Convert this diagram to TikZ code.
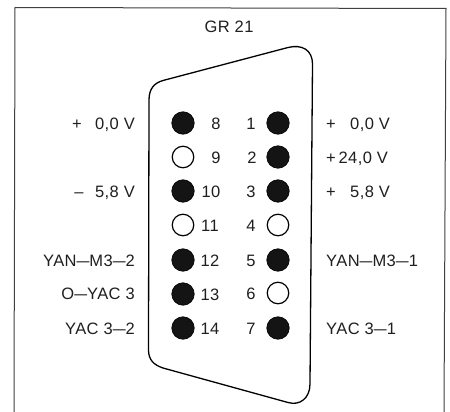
\documentclass[tikz,border=0pt]{standalone}
\usepackage{graphicx}
\usepackage{fontspec}
\setmainfont[LetterSpace=2.5]{Liberation Sans}
\newcommand{\ldash}{\scalebox{1.4}[1]{--}}
\tikzset{
  x=1pt,y=-1pt,
  full/.style={circle,draw=black,fill=black!92,line width=0.6pt,minimum size=22.5pt,inner sep=0pt},
  hollow/.style={circle,draw=black,fill=white,line width=1.2pt,minimum size=21.5pt,inner sep=0pt},
  txt/.style={font=\fontsize{16.5}{18}\selectfont,text=black!88,inner sep=0pt,text height=11.5pt,text depth=0pt,yshift=-0.7pt},
  ll/.style={txt,anchor=east},
  rl/.style={txt,anchor=west},
  num/.style={txt,anchor=center},
  frame/.style={draw=black!75,line width=1pt},
  shell/.style={draw=black,line width=1.3pt,line join=round}
}
\begin{document}
\begin{tikzpicture}
\useasboundingbox (0,0) rectangle (450,412);
\fill[white] (0,0) rectangle (450,412);
\coordinate (fa) at (14,412);
\coordinate (fb) at (15,7.5);
\coordinate (fc) at (446,8.5);
\coordinate (fd) at (444,412);
\draw[frame] (fa) -- (fb) -- (fc) -- (fd);
\draw[shell] (149,100) .. controls (149,89) and (154,83) .. (163,80.5)
 -- (288,47.5) .. controls (302,44) and (312.5,50) .. (312.5,64)
 -- (310,384) .. controls (310,398) and (300,406) .. (288,402.5)
 -- (163,368) .. controls (154,365) and (148.5,360) .. (148.5,350) -- cycle;
\node[txt] (title) at (229,26) {GR 21};
\foreach \n/\y/\s/\nx in {8/123/full/216,9/157/hollow/216,10/191/full/211,11/225/hollow/210,12/260/full/210,13/294/full/210,14/328/full/210}{
  \node[\s] (p\n) at (183,\y) {};
  \node[num] (n\n) at (\nx,\y) {\n};
}
\foreach \n/\y/\s/\nx in {1/123/full/251,2/157/full/252,3/191/full/251,4/225/hollow/251,5/260/full/251,6/293/hollow/251,7/328/full/251}{
  \node[\s] (p\n) at (278,\y) {};
  \node[num] (n\n) at (\nx,\y) {\n};
}
\node[ll] (l1a) at (135,123) {0,0 V};
\node[txt] (l1b) at (77,123) {+};
\node[ll] (l3a) at (135,191) {5,8 V};
\node[txt] (l3b) at (79,191) {--};
\node[ll] (l5) at (135,260) {YAN\ldash M3\ldash 2};
\node[ll] (l6) at (135,293) {O\ldash YAC 3};
\node[ll] (l7) at (135,328) {YAC 3\ldash 2};
\node[rl] (r1a) at (350,123) {0,0 V};
\node[txt] (r1b) at (331,123) {+};
\node[rl] (r2) at (326,157) {+\,24,0 V};
\node[rl] (r3a) at (350,191) {5,8 V};
\node[txt] (r3b) at (331,191) {+};
\node[rl] (r5) at (326,260) {YAN\ldash M3\ldash 1};
\node[rl] (r7) at (326,328) {YAC 3\ldash 1};
\end{tikzpicture}
\end{document}
